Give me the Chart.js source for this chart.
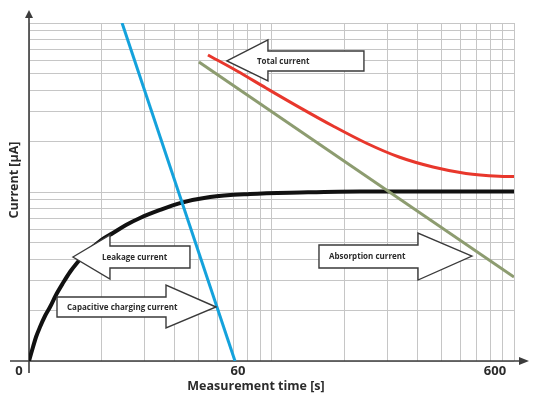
<!DOCTYPE html>
<html><head><meta charset="utf-8">
<script src="https://cdn.jsdelivr.net/npm/chart.js@4/dist/chart.umd.min.js"></script>
<style>html,body{margin:0;padding:0;background:#fff}canvas{display:block}</style>
</head><body>
<canvas id="c" width="536" height="400"></canvas>
<script>
// ---- Data (schematic log-log plot, arbitrary units) ----
const gridTicks = [1,2,3,4,5,6,7,8,9,10,20,30,40,50,60,70,80,90,100];
const xTickValues = [1, 7.27, 83.5];
const xTickLabels = ['0', '60', '600'];
const xTitle = 'Measurement time [s]';
const yTitle = 'Current [µA]';

const leakageTime    = [1, 1.019, 1.039, 1.069, 1.110, 1.164, 1.221, 1.292, 1.381, 1.476, 1.577, 1.702, 1.836, 2.019, 2.220, 2.512, 2.870, 3.47, 4.195, 5.58, 8.15, 13.1, 23.17, 45.05, 100];
const leakageCurrent = [1, 1.10, 1.21, 1.387, 1.589, 1.846, 2.087, 2.458, 2.894, 3.363, 3.80, 4.30, 4.73, 5.27, 5.72, 6.38, 7.02, 7.83, 8.60, 9.34, 9.73, 9.93, 10.07, 10.07, 10.07];

const chargingTime    = [2.42, 7.07];
const chargingCurrent = [100, 1];

const absorptionTime    = [5.02, 100];
const absorptionCurrent = [58.8, 3.14];

const totalTime    = [5.47, 7.21, 9.49, 12.98, 17.93, 24.53, 33.56, 46.34, 63.4, 86.7, 100];
const totalCurrent = [64.7, 52.0, 41.24, 31.8, 24.58, 19.5, 16.11, 14.06, 12.87, 12.4, 12.35];

// callout arrows (anchored at data coordinates of their tips)
const callouts = [
  {text:'Total current', tip:[6.55, 59.6], dir:-1, head:41, headUp:21, headDown:20, shaftUp:10, shaftDown:10, len:137, textDx:30},
  {text:'Leakage current', tip:[1.518, 4.125], dir:-1, head:37, headUp:22, headDown:22, shaftUp:11, shaftDown:11, len:117, textDx:29},
  {text:'Capacitive charging current', tip:[5.904, 2.087], dir:1, head:50, headUp:22, headDown:21, shaftUp:10, shaftDown:10, len:159, textDx:149},
  {text:'Absorption current', tip:[67.1, 4.18], dir:1, head:54, headUp:23, headDown:24, shaftUp:11, shaftDown:12, len:153, textDx:143}
];

const zip = (xs, ys) => xs.map((x, i) => ({x, y: ys[i]}));
const FONT = '"Open Sans", "DejaVu Sans", sans-serif';
const INK = '#2b2b2b';

const decor = {
  id: 'decor',
  beforeDatasetsDraw(chart) {
    const ctx = chart.ctx, xs = chart.scales.x, ys = chart.scales.y;
    const x0 = xs.getPixelForValue(1), y0 = ys.getPixelForValue(1);
    const yTop = ys.getPixelForValue(100), xRight = xs.getPixelForValue(100);
    ctx.save();
    ctx.strokeStyle = '#3c3c3c'; ctx.fillStyle = '#3c3c3c'; ctx.lineWidth = 1.6;
    ctx.beginPath(); ctx.moveTo(x0, y0 + 12); ctx.lineTo(x0, yTop - 6); ctx.stroke();
    ctx.beginPath(); ctx.moveTo(x0, yTop - 13); ctx.lineTo(x0 - 4, yTop - 5); ctx.lineTo(x0 + 4, yTop - 5); ctx.closePath(); ctx.fill();
    ctx.beginPath(); ctx.moveTo(x0 - 19, y0); ctx.lineTo(xRight + 6, y0); ctx.stroke();
    ctx.beginPath(); ctx.moveTo(xRight + 15, y0); ctx.lineTo(xRight + 5, y0 - 4); ctx.lineTo(xRight + 5, y0 + 4); ctx.closePath(); ctx.fill();
    ctx.restore();
  },
  afterDatasetsDraw(chart) {
    const ctx = chart.ctx, xs = chart.scales.x, ys = chart.scales.y;
    ctx.save();
    callouts.forEach(c => {
      const tx = xs.getPixelForValue(c.tip[0]), ty = ys.getPixelForValue(c.tip[1]);
      const s = -c.dir;
      ctx.beginPath();
      ctx.moveTo(tx, ty);
      ctx.lineTo(tx + s * c.head, ty - c.headUp);
      ctx.lineTo(tx + s * c.head, ty - c.shaftUp);
      ctx.lineTo(tx + s * c.len, ty - c.shaftUp);
      ctx.lineTo(tx + s * c.len, ty + c.shaftDown);
      ctx.lineTo(tx + s * c.head, ty + c.shaftDown);
      ctx.lineTo(tx + s * c.head, ty + c.headDown);
      ctx.closePath();
      ctx.fillStyle = '#ffffff'; ctx.fill();
      ctx.strokeStyle = '#3a3a3a'; ctx.lineWidth = 1.4; ctx.lineJoin = 'miter'; ctx.stroke();
      ctx.fillStyle = INK; ctx.font = 'bold 8px ' + FONT;
      ctx.textAlign = 'left'; ctx.textBaseline = 'middle';
      ctx.fillText(c.text, tx + s * c.textDx, ty + 1);
    });
    ctx.fillStyle = INK; ctx.font = 'bold 13px ' + FONT;
    ctx.textAlign = 'center'; ctx.textBaseline = 'middle';
    const yLab = ys.getPixelForValue(1) + 10;
    xTickValues.forEach((v, i) => {
      let px = xs.getPixelForValue(v);
      if (i === 0) px -= 10;
      ctx.fillText(xTickLabels[i], px, yLab);
    });
    ctx.font = 'bold 12.5px ' + FONT;
    ctx.fillText(xTitle, 256, 386);
    ctx.translate(14, 180); ctx.rotate(-Math.PI / 2);
    ctx.fillText(yTitle, 0, 0);
    ctx.restore();
  }
};

const gridOpts = {color: '#c6c6c6', lineWidth: 1, drawTicks: false};

new Chart(document.getElementById('c'), {
  type: 'line',
  data: {
    datasets: [
      {label: 'Capacitive charging current', data: zip(chargingTime, chargingCurrent), borderColor: '#14a2dc', borderWidth: 3},
      {label: 'Total current', data: zip(totalTime, totalCurrent), borderColor: '#e8372c', borderWidth: 3, cubicInterpolationMode: 'monotone'},
      {label: 'Absorption current', data: zip(absorptionTime, absorptionCurrent), borderColor: '#8d9c70', borderWidth: 3},
      {label: 'Leakage current', data: zip(leakageTime, leakageCurrent), borderColor: '#111111', borderWidth: 4, cubicInterpolationMode: 'monotone'}
    ]
  },
  options: {
    responsive: false,
    devicePixelRatio: 1,
    animation: false,
    events: [],
    layout: {padding: {left: 29, top: 23, right: 22, bottom: 39}},
    elements: {point: {radius: 0}, line: {fill: false, borderCapStyle: 'butt'}},
    plugins: {legend: {display: false}, tooltip: {enabled: false}},
    scales: {
      x: {
        type: 'logarithmic', min: 1, max: 100,
        afterBuildTicks: s => { s.ticks = gridTicks.map(v => ({value: v})); },
        afterFit: s => { s.height = 0; },
        ticks: {display: false},
        grid: gridOpts,
        border: {display: false}
      },
      y: {
        type: 'logarithmic', min: 1, max: 100,
        afterBuildTicks: s => { s.ticks = gridTicks.map(v => ({value: v})); },
        afterFit: s => { s.width = 0; },
        ticks: {display: false},
        grid: gridOpts,
        border: {display: false}
      }
    }
  },
  plugins: [decor]
});
</script>
</body></html>
